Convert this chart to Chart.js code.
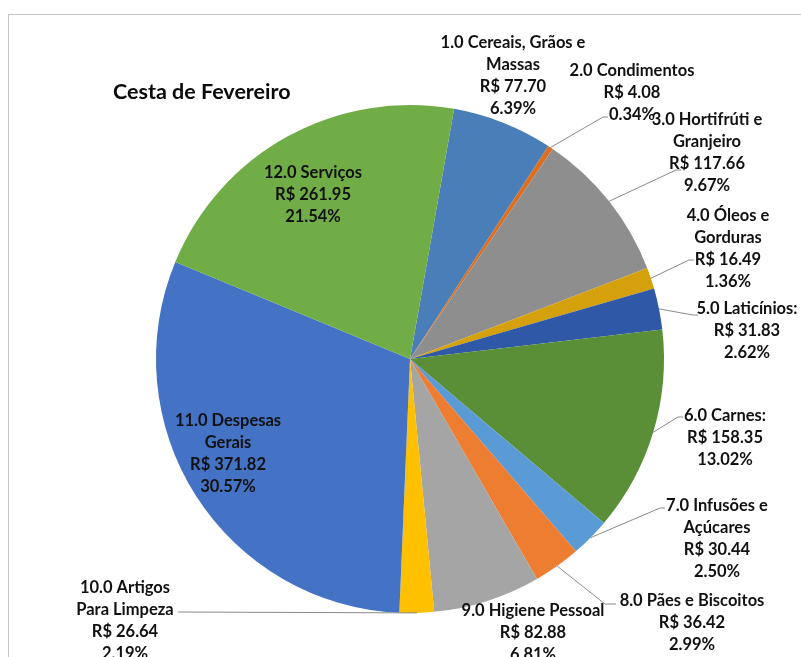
<!DOCTYPE html>
<html>
<head>
<meta charset="utf-8">
<script src="https://cdn.jsdelivr.net/npm/chart.js@4"></script>
<style>
  html, body { margin: 0; padding: 0; background: #fff; overflow: hidden; }
  #wrap { position: relative; width: 801px; height: 657px; }
  #frame { position: absolute; left: 8px; top: 14px; width: 900px; height: 800px; border: 1px solid #c4c4c4; box-sizing: border-box; }
  #pie { position: absolute; left: 0; top: 0; }
</style>
</head>
<body>
<div id="wrap">
  <div id="frame"></div>
  <canvas id="pie" width="801" height="657"></canvas>
</div>
<script>
const categories = [
  "1.0 Cereais, Grãos e Massas", "2.0 Condimentos", "3.0 Hortifrúti e Granjeiro",
  "4.0 Óleos e Gorduras", "5.0 Laticínios:", "6.0 Carnes:", "7.0 Infusões e Açúcares",
  "8.0 Pães e Biscoitos", "9.0 Higiene Pessoal", "10.0 Artigos Para Limpeza",
  "11.0 Despesas Gerais", "12.0 Serviços"
];
const values = [77.70, 4.08, 117.66, 16.49, 31.83, 158.35, 30.44, 36.42, 82.88, 26.64, 371.82, 261.95];
const percents = ["6.39%", "0.34%", "9.67%", "1.36%", "2.62%", "13.02%", "2.50%", "2.99%", "6.81%", "2.19%", "30.57%", "21.54%"];
// how each category name wraps in its label
const nameLines = [
  ["1.0 Cereais, Grãos e", "Massas"], ["2.0 Condimentos"], ["3.0 Hortifrúti e", "Granjeiro"],
  ["4.0 Óleos e", "Gorduras"], ["5.0 Laticínios:"], ["6.0 Carnes:"], ["7.0 Infusões e", "Açúcares"],
  ["8.0 Pães e Biscoitos"], ["9.0 Higiene Pessoal"], ["10.0 Artigos", "Para Limpeza"],
  ["11.0 Despesas", "Gerais"], ["12.0 Serviços"]
];
const colors = [
  '#4a7eb8', '#dc6e22', '#8e8e8e', '#d4a00c', '#2f58a6', '#5a8f37',
  '#5b9bd5', '#ed7d31', '#a5a5a5', '#ffc000', '#4472c4', '#70ad47'
];

// label placement: text centre x, first line y, optional leader elbow (ex, ey) and tick end tx
const labelPos = [
  { x: 513, y: 43 },
  { x: 632, y: 71, ex: 603, ey: 117, tx: 608 },
  { x: 707, y: 120, ex: 676, ey: 170, tx: 681 },
  { x: 728, y: 216, ex: 689, ey: 260, tx: 694 },
  { x: 747, y: 309, ex: 693, ey: 315, tx: 698 },
  { x: 725, y: 416, ex: 678, ey: 417, tx: 683 },
  { x: 717, y: 506, ex: 660, ey: 508, tx: 665 },
  { x: 692, y: 601, ex: 605, ey: 604, tx: 616 },
  { x: 533, y: 611 },
  { x: 125, y: 588, ex: 178, ey: 612, tx: 178 },
  { x: 228, y: 421 },
  { x: 313, y: 173 }
];

const labelPlugin = {
  id: 'pieLabels',
  afterDraw(chart) {
    const ctx = chart.ctx;
    const arcs = chart.getDatasetMeta(0).data;
    ctx.save();
    // leader lines
    ctx.strokeStyle = '#8a8a8a';
    ctx.lineWidth = 1;
    arcs.forEach((arc, i) => {
      const p = labelPos[i];
      if (p.ex === undefined) return;
      const mid = (arc.startAngle + arc.endAngle) / 2;
      const sx = arc.x + Math.cos(mid) * arc.outerRadius;
      const sy = arc.y + Math.sin(mid) * arc.outerRadius;
      ctx.beginPath();
      ctx.moveTo(sx, sy);
      ctx.lineTo(p.ex, p.ey);
      ctx.lineTo(p.tx, p.ey);
      ctx.stroke();
    });
    // texts
    ctx.fillStyle = '#111';
    ctx.font = 'bold 16.5px Lato, "Open Sans", sans-serif';
    ctx.textAlign = 'center';
    ctx.textBaseline = 'middle';
    arcs.forEach((arc, i) => {
      const p = labelPos[i];
      const lines = nameLines[i].concat(["R$ " + values[i].toFixed(2), percents[i]]);
      lines.forEach((t, k) => ctx.fillText(t, p.x, p.y + k * 21.8));
    });
    // title
    ctx.font = 'bold 21.5px Lato, "Open Sans", sans-serif';
    ctx.textAlign = 'left';
    ctx.fillStyle = '#0a0a0a';
    ctx.fillText('Cesta de Fevereiro', 113, 92);
    ctx.restore();
  }
};

new Chart(document.getElementById('pie'), {
  type: 'pie',
  data: {
    labels: categories,
    datasets: [{
      data: values,
      backgroundColor: colors,
      borderWidth: 0
    }]
  },
  options: {
    responsive: false,
    animation: false,
    rotation: 10,
    layout: { padding: { left: 156, right: 137, top: 105, bottom: 44 } },
    plugins: {
      legend: { display: false },
      tooltip: { enabled: false },
      title: { display: false }
    }
  },
  plugins: [labelPlugin]
});
</script>
</body>
</html>
